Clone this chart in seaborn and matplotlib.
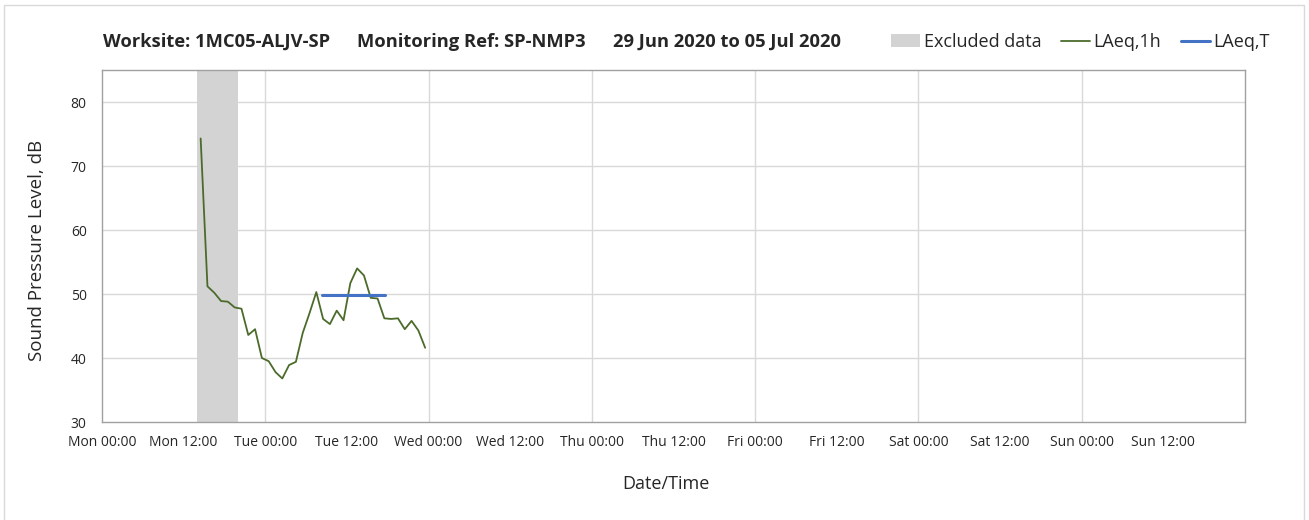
import matplotlib
matplotlib.use("Agg")
import matplotlib.pyplot as plt
import seaborn as sns
import pandas as pd
from matplotlib.patches import Patch
from matplotlib.lines import Line2D

# Data (hours from Mon 00:00)
hours = [14.5, 15.5, 16.5, 17.5, 18.5, 19.5, 20.5, 21.5, 22.5, 23.5,
         24.5, 25.5, 26.5, 27.5, 28.5, 29.5, 30.5, 31.5, 32.5, 33.5,
         34.5, 35.5, 36.5, 37.5, 38.5, 39.5, 40.5, 41.5, 42.5, 43.5,
         44.5, 45.5, 46.5, 47.5]
laeq_1h = [74.3, 51.2, 50.2, 48.9, 48.8, 47.9, 47.7, 43.6, 44.5, 40.0,
           39.5, 37.8, 36.8, 38.9, 39.4, 43.9, 47.0, 50.3, 46.1, 45.3,
           47.4, 45.9, 51.7, 54.0, 52.9, 49.4, 49.3, 46.2, 46.1, 46.2,
           44.5, 45.8, 44.3, 41.6]
laeq_t_hours = [32.4, 41.6]
laeq_t_value = [49.9, 49.9]
excluded_start = 14.0
excluded_end = 20.0
tick_labels = ["Mon 00:00", "Mon 12:00", "Tue 00:00", "Tue 12:00", "Wed 00:00", "Wed 12:00",
               "Thu 00:00", "Thu 12:00", "Fri 00:00", "Fri 12:00", "Sat 00:00", "Sat 12:00",
               "Sun 00:00", "Sun 12:00"]
title_parts = ["Worksite: 1MC05-ALJV-SP", "Monitoring Ref: SP-NMP3", "29 Jun 2020 to 05 Jul 2020"]

sns.set_theme(style="white")
plt.rcParams['font.family'] = ['Open Sans', 'DejaVu Sans']

W, H = 1309, 520
fig = plt.figure(figsize=(W/100, H/100), dpi=100)
ax = fig.add_axes([102/W, 1-422/H, (1245-102)/W, (422-70)/H])

df1 = pd.DataFrame({"h": hours, "v": laeq_1h})
dft = pd.DataFrame({"h": laeq_t_hours, "v": laeq_t_value})

ax.axvspan(excluded_start, excluded_end, color="#d3d3d3", lw=0, zorder=1)
sns.lineplot(data=df1, x="h", y="v", ax=ax, color="#4b6b2b", lw=1.3, zorder=3)
sns.lineplot(data=dft, x="h", y="v", ax=ax, color="#4472c4", lw=2.2, zorder=4)

ax.set_xlim(0, 168)
ax.set_ylim(30, 85)
ax.set_yticks([30, 40, 50, 60, 70, 80])
ax.set_xticks([12*i for i in range(14)])
ax.set_xticklabels(tick_labels, fontsize=10)
ax.tick_params(axis="y", labelsize=10, pad=7)
ax.tick_params(axis="x", pad=5)
ax.tick_params(axis="both", direction="out", length=4, width=0.8, color="#a0a0a0")

for y in [40, 50, 60, 70, 80]:
    ax.axhline(y, color="#d9d9d9", lw=1, zorder=0)
for x in [24, 48, 72, 96, 120, 144]:
    ax.axvline(x, color="#d9d9d9", lw=1, zorder=0)

for s in ax.spines.values():
    s.set_color("#a0a0a0")
    s.set_linewidth(1)

ax.set_xlabel("")
ax.set_ylabel("")
fig.text(666/W, 1-484/H, "Date/Time", fontsize=13, ha="center", va="center")
fig.text(37/W, 1-250/H, "Sound Pressure Level, dB", fontsize=13.5, ha="center", va="center",
         rotation=90)

for xp, txt in zip([103, 357, 613], title_parts):
    fig.text(xp/W, 1-42/H, txt, fontsize=13.2, fontweight="bold", va="center", ha="left")

handles = [Patch(facecolor="#d3d3d3", edgecolor="none", label="Excluded data"),
           Line2D([0], [0], color="#4b6b2b", lw=1.3, label="LAeq,1h"),
           Line2D([0], [0], color="#4472c4", lw=2.2, label="LAeq,T")]
fig.legend(handles=handles, loc="center right", bbox_to_anchor=(1270/W, 1-42/H),
           ncol=3, frameon=False, fontsize=13, handlelength=1.6, handletextpad=0.2,
           columnspacing=1.1, borderpad=0, borderaxespad=0)

fig.patches.append(plt.Rectangle((4/W, -0.05), 1-5/W - 4/W, 1.05-5/H, transform=fig.transFigure,
                                 fill=False, edgecolor="#d9d9d9", lw=1))

fig.savefig("out.png", dpi=100)
